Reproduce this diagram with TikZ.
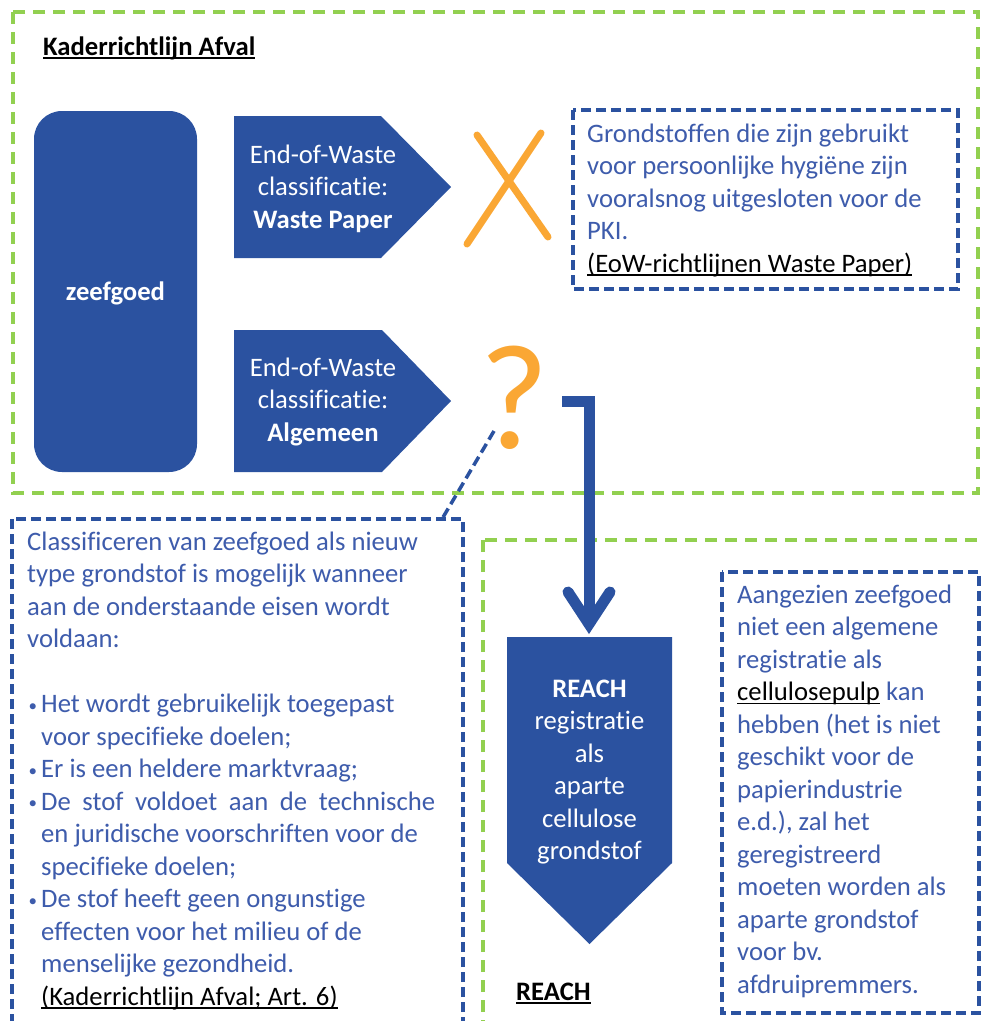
\documentclass[tikz,border=0pt]{standalone}
\usepackage{fontspec}
\setmainfont[Ligatures=NoCommon]{Carlito}
\usetikzlibrary{calc}
\definecolor{dblue}{RGB}{43,82,160}
\definecolor{tblue}{RGB}{62,92,172}
\definecolor{lgreen}{RGB}{146,208,80}
\definecolor{orng}{RGB}{250,167,52}
\newcommand\myul[1]{\setbox0\hbox{#1}\rlap{\rule[-3.5pt]{\wd0}{1.4pt}}\box0}
\newcommand\firstl{\rule{0pt}{20pt}}
\newcommand\bul{\makebox[14pt][l]{\hspace{1.5pt}\raisebox{1.5pt}{\fontsize{17}{17}\selectfont•}}}
\tikzset{
  greenbox/.style={draw=lgreen, line width=3.5pt, dash pattern=on 12pt off 8pt},
  bluebox/.style={draw=dblue, line width=3.5pt, dash pattern=on 10pt off 5pt},
  body/.style={font=\fontsize{26.67}{32.5}\selectfont, text=tblue, align=left, anchor=north west, inner sep=0pt},
  wtext/.style={font=\fontsize{26.67}{32.5}\selectfont, text=white, align=center, anchor=north, inner sep=0pt},
  titletext/.style={font=\fontsize{26.67}{32.5}\selectfont\bfseries, text=black, anchor=north west, inner sep=0pt},
  bluefill/.style={fill=dblue},
  flow/.style={draw=dblue, line width=11pt},
  cross/.style={draw=orng, line width=7pt, line cap=round}
}
\begin{document}
\begin{tikzpicture}[x=1pt,y=-1pt]
\useasboundingbox (0,0) rectangle (982,1021);
\fill[white] (0,0) rectangle (982,1021);
\clip (0,0) rectangle (982,1021);

% green frames
\draw[greenbox] (13,12) rectangle (978,493);
\draw[greenbox] (483,540) rectangle (1010,1050);

% title
\node[titletext] (title) at (43,35) {\firstl\myul{Kaderrichtlijn Afval}};

% zeefgoed block
\fill[bluefill, rounded corners=28pt] (34,111) rectangle (197,472);
\node[wtext] (zeef) at (115.5,280) {\firstl\textbf{zeefgoed}};

% End-of-Waste pentagons
\fill[bluefill] (234,116) -- (381,116) -- (451,187) -- (381,258) -- (234,258) -- cycle;
\node[wtext] (eow1) at (323,143) {\firstl End-of-Waste\\classificatie:\\\textbf{Waste Paper}};
\fill[bluefill] (234,330) -- (382,330) -- (451,401) -- (382,472) -- (234,472) -- cycle;
\node[wtext] (eow2) at (323,356) {\firstl End-of-Waste\\classificatie:\\\textbf{Algemeen}};

% cross
\draw[cross] (467,244) -- (541,133);
\draw[cross] (477,135) -- (548,237);

% note 1
\draw[bluebox] (573,110) rectangle (958,289);
\node[body] (note1) at (587,122) {\firstl Grondstoffen die zijn gebruikt\\voor persoonlijke hygiëne zijn\\vooralsnog uitgesloten voor de\\PKI.\\\textcolor{black}{\myul{(EoW-richtlijnen Waste Paper)}}};

% question mark
\node[text=orng, font=\fontsize{150}{150}\selectfont, anchor=base, inner sep=0pt] (qmark) at (514,448) {?};

% note 2 (callout)
\draw[bluebox] (12,519) rectangle (463,1050);
\coordinate (cstart) at (494,431);
\coordinate (cend) at (442,519);
\draw[bluebox] (cstart) -- (cend);
\node[body] (note2) at (27,530) {\firstl Classificeren van zeefgoed als nieuw\\type grondstof is mogelijk wanneer\\aan de onderstaande eisen wordt\\voldaan:\\[32.5pt]
\bul Het wordt gebruikelijk toegepast\\
\hspace*{14pt}voor specifieke doelen;\\
\bul Er is een heldere marktvraag;\\
\bul\makebox[394pt][s]{De stof voldoet aan de technische}\\
\hspace*{14pt}en juridische voorschriften voor de\\
\hspace*{14pt}specifieke doelen;\\
\bul De stof heeft geen ongunstige\\
\hspace*{14pt}effecten voor het milieu of de\\
\hspace*{14pt}menselijke gezondheid.\\
\hspace*{14pt}\textcolor{black}{\myul{(Kaderrichtlijn Afval; Art. 6)}}};

% REACH pentagon
\fill[bluefill] (507,637) -- (672,637) -- (672,863) -- (589.5,944) -- (507,863) -- cycle;
\coordinate (reachtop) at (589,637);
\node[wtext] (reach) at (589.5,677) {\firstl\textbf{REACH}\\registratie\\als\\aparte\\cellulose\\grondstof};
\node[titletext] (reachlbl) at (516,980) {\firstl\myul{REACH}};

% flow arrow from question to REACH
\coordinate (astart) at (562,401);
\draw[flow, line join=miter] (astart) -| ($(reachtop)+(0,-13)$);
\draw[flow, line join=miter, line cap=round] ($(reachtop)+(-21,-45)$) -- ($(reachtop)+(0,-13)$) -- ($(reachtop)+(21,-45)$);

% note 3
\draw[bluebox] (722,572) rectangle (979,1013);
\node[body] (note3) at (737,583) {\firstl Aangezien zeefgoed\\niet een algemene\\registratie als\\\textcolor{black}{\myul{cellulosepulp}} kan\\hebben (het is niet\\geschikt voor de\\papierindustrie\\e.d.), zal het\\geregistreerd\\moeten worden als\\aparte grondstof\\voor bv.\\afdruipremmers.};
\end{tikzpicture}
\end{document}
